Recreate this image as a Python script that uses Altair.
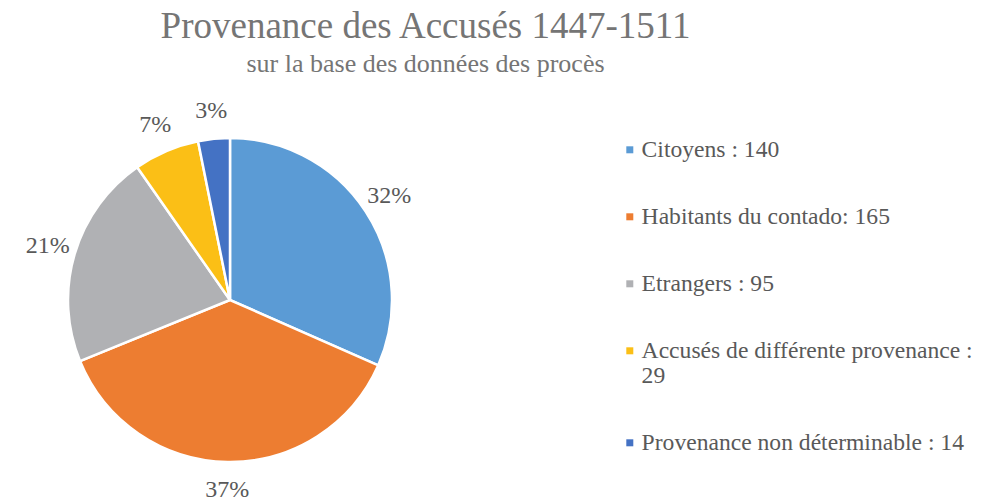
import altair as alt
import pandas as pd

categories = [
    "Citoyens : 140",
    "Habitants du contado: 165",
    "Etrangers : 95",
    "Accusés de différente provenance : 29",
    "Provenance non déterminable : 14",
]
values = [140, 165, 95, 29, 14]
pct_labels = ["32%", "37%", "21%", "7%", "3%"]
order = [0, 1, 2, 3, 4]
colors = ["#5B9BD5", "#ED7D31", "#B0B1B4", "#FBBF16", "#4472C4"]

df = pd.DataFrame({"cat": categories, "value": values, "pct": pct_labels, "order": order})

FONT = "Times New Roman, Liberation Serif, serif"

CX, CY = 222, 202

base = alt.Chart(df).encode(
    theta=alt.Theta("value:Q", stack=True),
    order=alt.Order("order:Q"),
    x=alt.value(CX),
    y=alt.value(CY),
)

arcs = base.mark_arc(radius=162, stroke="white", strokeWidth=2.5).encode(
    color=alt.Color(
        "cat:N",
        scale=alt.Scale(domain=categories, range=colors),
        sort=categories,
        legend=alt.Legend(
            title=None,
            orient="none",
            legendX=610,
            legendY=40,
            symbolType="square",
            symbolSize=49,
            symbolStrokeWidth=0,
            labelFont=FONT,
            labelFontSize=23.6,
            labelColor="#595959",
            labelOffset=0,
            labelLimit=400,
            rowPadding=42,
            padding=0,
            labelExpr="datum.label == 'Accusés de différente provenance : 29' ? ['Accusés de différente provenance :', '29'] : datum.label",
        ),
    )
)

texts = base.mark_text(radius=190, font=FONT, fontSize=24, color="#595959").encode(
    text="pct:N"
)

chart = (
    alt.layer(arcs, texts)
    .properties(
        width=971,
        height=399,
        padding={"left": 0, "top": 90, "right": 0, "bottom": 0},
        autosize=alt.AutoSizeParams(type="none"),
        title=alt.TitleParams(
            text="Provenance des Accusés 1447-1511",
            subtitle="sur la base des données des procès",
            anchor="middle",
            dx=-68,
            offset=20,
            font=FONT,
            fontSize=37,
            fontWeight="normal",
            color="#757575",
            subtitleFont=FONT,
            subtitleFontSize=26,
            subtitleColor="#757575",
            subtitlePadding=5,
        ),
    )
    .configure_view(stroke=None)
)

chart.save("out.html", embed_options={"renderer": "svg", "actions": False})
